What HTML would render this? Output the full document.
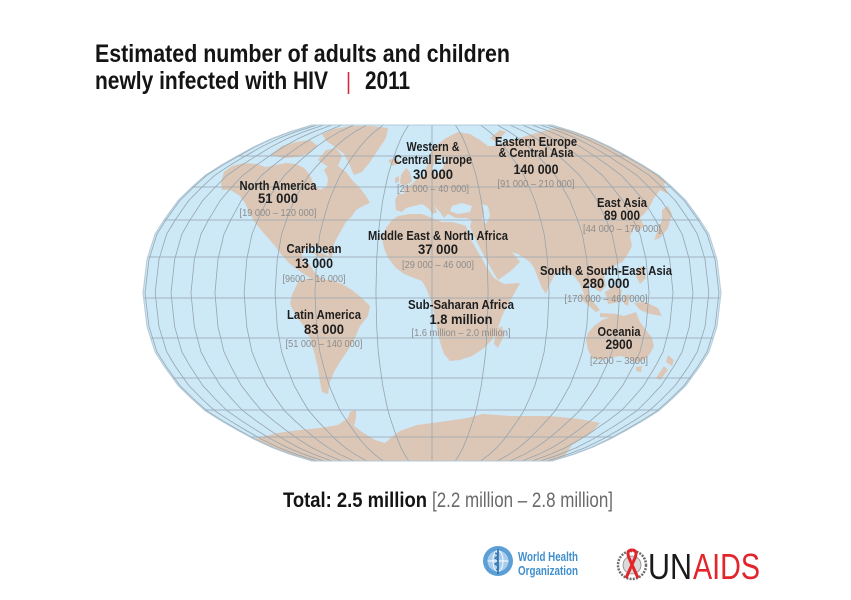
<!DOCTYPE html>
<html><head><meta charset="utf-8"><style>
html,body{margin:0;padding:0;background:#fff;}
svg{display:block;}
text{font-family:"Liberation Sans",Arial,sans-serif;}
.n{font-weight:bold;font-size:12.5px;fill:#1e1e1e;}
.v{font-weight:bold;font-size:14px;fill:#1e1e1e;}
.r{font-size:10.5px;fill:#8c8c8c;}
</style></head><body>
<svg width="851" height="600" viewBox="0 0 851 600" xmlns="http://www.w3.org/2000/svg" xmlns:xlink="http://www.w3.org/1999/xlink">
<defs>
<path id="half" vector-effect="non-scaling-stroke" fill="none" stroke="#97a5ae" stroke-width="0.8"
 d="M -120 125 L -142 131.7 L -160 138.4 L -178 146.8 L -195 156.1 L -211 165.3 L -227 175.4 L -240 187 L -254 200.6 L -268 219.9 L -277 234.2 L -285 259.4 L -289 293 L -285 326.6 L -277 351.8 L -268 366.1 L -254 385.4 L -240 399 L -227 410.6 L -211 420.7 L -195 429.9 L -178 439.2 L -160 447.6 L -142 454.3 L -120 461"/>
<clipPath id="clip"><path id="outl" d="M312 125 L552 125 L574 131.7 L592 138.4 L610 146.8 L627 156.1 L643 165.3 L659 175.4 L672 187 L686 200.6 L700 219.9 L709 234.2 L717 259.4 L721 293 L717 326.6 L709 351.8 L700 366.1 L686 385.4 L672 399 L659 410.6 L643 420.7 L627 429.9 L610 439.2 L592 447.6 L574 454.3 L552 461 L312 461 L290 454.3 L272 447.6 L254 439.2 L237 429.9 L221 420.7 L205 410.6 L192 399 L178 385.4 L164 366.1 L155 351.8 L147 326.6 L143 293 L147 259.4 L155 234.2 L164 219.9 L178 200.6 L192 187 L205 175.4 L221 165.3 L237 156.1 L254 146.8 L272 138.4 L290 131.7 Z"/></clipPath>
</defs>

<!-- Title -->
<text x="95" y="62" font-size="25" font-weight="bold" fill="#141414" textLength="415" lengthAdjust="spacingAndGlyphs">Estimated number of adults and children</text>
<text x="95" y="89" font-size="25" font-weight="bold" fill="#141414" textLength="233" lengthAdjust="spacingAndGlyphs">newly infected with HIV</text>
<line x1="348.5" y1="72" x2="348.5" y2="94" stroke="#d42a3c" stroke-width="1.6"/>
<text x="365" y="89" font-size="25" font-weight="bold" fill="#141414" textLength="45" lengthAdjust="spacingAndGlyphs">2011</text>

<!-- Map -->
<g clip-path="url(#clip)">
<rect x="130" y="115" width="600" height="360" fill="#cde8f7"/>
<g fill="#dcc7b6">
<!-- North America -->
<path d="M221 182 L224 172 L232 166 L244 163 L256 164 L266 167 L276 165 L286 163 L296 164 L304 168 L310 175 L314 185 L320 190 L327 186 L328 178 L324 170 L330 164 L338 166 L346 172 L352 180 L360 188 L366 196 L370 203 L363 206 L356 210 L352 216 L346 222 L342 229 L338 236 L334 244 L333 252 L331 259 L327 252 L321 247 L313 246 L306 248 L302 254 L303 261 L309 264 L313 270 L318 276 L324 281 L319 283 L312 279 L304 274 L295 268 L288 262 L281 254 L275 246 L268 238 L261 230 L254 221 L249 212 L245 203 L239 195 L230 190 L222 190 Z"/>
<path d="M270 155 L282 146 L296 142 L310 140 L318 146 L310 153 L298 157 L284 158 Z"/>
<path d="M318 160 L326 150 L336 148 L342 156 L338 166 L330 168 Z"/>
<path d="M322 134 L334 129 L350 126 L372 126 L388 128 L386 138 L378 150 L370 162 L362 172 L354 175 L350 166 L344 154 L334 146 L326 141 Z"/>
<path d="M388 160 L396 158 L400 163 L392 166 Z"/>
<path d="M312 252 L322 253 L330 257 L320 258 Z"/>
<!-- South America -->
<path d="M298 282 L306 279 L318 279 L330 280 L342 284 L352 290 L362 298 L370 306 L368 316 L360 326 L355 338 L348 350 L340 362 L334 372 L330 382 L328 394 L322 392 L320 382 L318 368 L314 352 L310 338 L304 326 L296 316 L290 304 L292 295 Z"/>
<!-- Eurasia -->
<path d="M396 210 L395 200 L398 194 L404 194 L404 188 L412 184 L418 178 L424 176 L426 168 L428 164 L430 154 L436 146 L446 138 L458 132 L470 134 L480 140 L488 146 L496 146 L504 142 L514 140 L526 136 L540 132 L556 128 L572 127 L588 130 L604 134 L620 140 L634 146 L648 154 L662 160 L674 166 L680 174 L670 178 L664 184 L668 194 L660 190 L654 198 L650 206 L646 212 L640 218 L644 226 L638 232 L634 228 L630 236 L632 246 L628 254 L622 262 L614 266 L606 270 L604 278 L606 286 L600 292 L594 288 L592 282 L588 286 L590 296 L592 304 L588 304 L584 294 L580 284 L574 276 L566 272 L560 270 L554 276 L550 284 L546 294 L542 288 L538 278 L534 268 L530 262 L524 258 L518 254 L512 252 L520 262 L512 270 L504 276 L498 280 L492 270 L484 256 L478 244 L472 232 L470 226 L472 220 L466 218 L456 218 L448 214 L444 218 L440 212 L434 206 L437 212 L433 214 L428 208 L422 204 L414 206 L406 208 L402 212 Z"/>
<path d="M401 175 L406 168 L410 172 L412 182 L404 186 L400 183 Z"/>
<path d="M395 178 L399 176 L399 182 L395 183 Z"/>
<path d="M490 138 L500 130 L506 132 L496 142 Z"/>
<path d="M662 210 L668 206 L672 214 L668 228 L660 238 L654 240 L658 230 L662 220 Z"/>
<path d="M638 268 L644 266 L646 278 L640 284 L636 276 Z"/>
<path d="M605 292 L615 286 L622 290 L620 302 L608 304 Z"/>
<path d="M580 293 L590 298 L600 310 L596 312 L582 300 Z"/>
<path d="M600 313 L618 314 L618 318 L600 317 Z"/>
<path d="M624 296 L630 294 L628 306 L624 304 Z"/>
<path d="M634 303 L645 302 L658 308 L662 316 L650 314 L640 310 Z"/>
<!-- Africa -->
<path d="M398 216 L410 214 L422 214 L432 218 L442 222 L452 222 L460 224 L466 226 L470 238 L478 252 L486 266 L494 278 L504 284 L520 283 L514 294 L508 304 L502 316 L498 328 L492 340 L484 348 L472 356 L460 360 L450 361 L444 354 L440 342 L437 328 L434 312 L430 298 L426 288 L422 281 L414 278 L404 274 L396 268 L388 258 L384 248 L382 238 L386 228 L392 220 Z"/>
<path d="M496 330 L502 326 L504 336 L498 348 L494 344 Z"/>
<!-- Australia / NZ -->
<path d="M588 333 L594 326 L602 320 L608 318 L616 314 L624 316 L630 314 L636 312 L640 322 L646 330 L652 338 L654 346 L650 354 L644 360 L636 362 L628 358 L620 356 L610 358 L600 360 L592 358 L588 350 L586 340 Z"/>
<path d="M636 367 L642 366 L641 372 L636 371 Z"/>
<path d="M668 355 L674 360 L672 366 L666 362 Z"/>
<path d="M664 366 L668 370 L660 380 L656 378 Z"/>
<!-- Antarctica -->
<path d="M250 440 L277 433 L300 430 L320 428 L338 425 L348 418 L350 412 L356 410 L356 418 L354 426 L362 432 L375 440 L385 443 L393 436 L400 431 L417 425 L440 422 L467 418 L483 414 L510 416 L550 416 L580 419 L600 423 L590 434 L572 445 L565 455 L560 470 L250 470 Z"/>
</g>
<!-- inland water -->
<g fill="#cde8f7">
<path d="M452 206 L462 203 L472 206 L470 212 L458 214 L450 211 Z"/>
<path d="M482 204 L488 206 L490 216 L486 224 L482 220 L484 212 Z"/>
<path d="M432 168 L436 160 L442 156 L446 160 L442 170 L436 176 Z"/>
</g>
<!-- graticule -->
<g stroke="#97a5ae" stroke-width="0.8" fill="none">
<line x1="140" y1="156" x2="725" y2="156"/>
<line x1="140" y1="187" x2="725" y2="187"/>
<line x1="140" y1="220" x2="725" y2="220"/>
<line x1="140" y1="257" x2="725" y2="257"/>
<line x1="140" y1="298" x2="725" y2="298"/>
<line x1="140" y1="338" x2="725" y2="338"/>
<line x1="140" y1="378" x2="725" y2="378"/>
<line x1="140" y1="410" x2="725" y2="410"/>
<line x1="140" y1="437" x2="725" y2="437"/>
<line x1="432" y1="120" x2="432" y2="465"/>
</g>
<use xlink:href="#half" href="#half" transform="translate(432,0) scale(0.194,1)"/>
<use xlink:href="#half" href="#half" transform="translate(432,0) scale(0.405,1)"/>
<use xlink:href="#half" href="#half" transform="translate(432,0) scale(0.543,1)"/>
<use xlink:href="#half" href="#half" transform="translate(432,0) scale(0.650,1)"/>
<use xlink:href="#half" href="#half" transform="translate(432,0) scale(0.751,1)"/>
<use xlink:href="#half" href="#half" transform="translate(432,0) scale(0.834,1)"/>
<use xlink:href="#half" href="#half" transform="translate(432,0) scale(0.903,1)"/>
<use xlink:href="#half" href="#half" transform="translate(432,0) scale(0.958,1)"/>
<use xlink:href="#half" href="#half" transform="translate(432,0) scale(0.993,1)"/>
<use xlink:href="#half" href="#half" transform="translate(432,0) scale(-0.194,1)"/>
<use xlink:href="#half" href="#half" transform="translate(432,0) scale(-0.405,1)"/>
<use xlink:href="#half" href="#half" transform="translate(432,0) scale(-0.543,1)"/>
<use xlink:href="#half" href="#half" transform="translate(432,0) scale(-0.650,1)"/>
<use xlink:href="#half" href="#half" transform="translate(432,0) scale(-0.751,1)"/>
<use xlink:href="#half" href="#half" transform="translate(432,0) scale(-0.834,1)"/>
<use xlink:href="#half" href="#half" transform="translate(432,0) scale(-0.903,1)"/>
<use xlink:href="#half" href="#half" transform="translate(432,0) scale(-0.958,1)"/>
<use xlink:href="#half" href="#half" transform="translate(432,0) scale(-0.993,1)"/>
</g>
<use xlink:href="#outl" href="#outl" fill="none" stroke="#b3cad8" stroke-width="1"/>

<!-- Labels -->
<g text-anchor="middle">
<text class="n" x="278" y="190" textLength="77" lengthAdjust="spacingAndGlyphs">North America</text>
<text class="v" x="278" y="203" textLength="40" lengthAdjust="spacingAndGlyphs">51 000</text>
<text class="r" x="278" y="216" textLength="77" lengthAdjust="spacingAndGlyphs">[19 000 – 120 000]</text>

<text class="n" x="314" y="253" textLength="55" lengthAdjust="spacingAndGlyphs">Caribbean</text>
<text class="v" x="314" y="268" textLength="38" lengthAdjust="spacingAndGlyphs">13 000</text>
<text class="r" x="314" y="282" textLength="63" lengthAdjust="spacingAndGlyphs">[9600 – 16 000]</text>

<text class="n" x="324" y="319" textLength="74" lengthAdjust="spacingAndGlyphs">Latin America</text>
<text class="v" x="324" y="334" textLength="40" lengthAdjust="spacingAndGlyphs">83 000</text>
<text class="r" x="324" y="347" textLength="77" lengthAdjust="spacingAndGlyphs">[51 000 – 140 000]</text>

<text class="n" x="433" y="151" textLength="53" lengthAdjust="spacingAndGlyphs">Western &amp;</text>
<text class="n" x="433" y="164" textLength="78" lengthAdjust="spacingAndGlyphs">Central Europe</text>
<text class="v" x="433" y="179" textLength="40" lengthAdjust="spacingAndGlyphs">30 000</text>
<text class="r" x="433" y="192" textLength="72" lengthAdjust="spacingAndGlyphs">[21 000 – 40 000]</text>

<text class="n" x="536" y="146" textLength="82" lengthAdjust="spacingAndGlyphs">Eastern Europe</text>
<text class="n" x="536" y="157" textLength="75" lengthAdjust="spacingAndGlyphs">&amp; Central Asia</text>
<text class="v" x="536" y="174" textLength="45" lengthAdjust="spacingAndGlyphs">140 000</text>
<text class="r" x="536" y="187" textLength="77" lengthAdjust="spacingAndGlyphs">[91 000 – 210 000]</text>

<text class="n" x="622" y="207" textLength="50" lengthAdjust="spacingAndGlyphs">East Asia</text>
<text class="v" x="622" y="220" textLength="36" lengthAdjust="spacingAndGlyphs">89 000</text>
<text class="r" x="622" y="232" textLength="78" lengthAdjust="spacingAndGlyphs">[44 000 – 170 000]</text>

<text class="n" x="438" y="240" textLength="140" lengthAdjust="spacingAndGlyphs">Middle East &amp; North Africa</text>
<text class="v" x="438" y="254" textLength="40" lengthAdjust="spacingAndGlyphs">37 000</text>
<text class="r" x="438" y="268" textLength="72" lengthAdjust="spacingAndGlyphs">[29 000 – 46 000]</text>

<text class="n" x="606" y="275" textLength="132" lengthAdjust="spacingAndGlyphs">South &amp; South-East Asia</text>
<text class="v" x="606" y="288" textLength="47" lengthAdjust="spacingAndGlyphs">280 000</text>
<text class="r" x="606" y="302" textLength="83" lengthAdjust="spacingAndGlyphs">[170 000 – 460 000]</text>

<text class="n" x="461" y="309" textLength="106" lengthAdjust="spacingAndGlyphs">Sub-Saharan Africa</text>
<text class="v" x="461" y="324" textLength="63" lengthAdjust="spacingAndGlyphs">1.8 million</text>
<text class="r" x="461" y="336" textLength="99" lengthAdjust="spacingAndGlyphs">[1.6 million – 2.0 million]</text>

<text class="n" x="619" y="336" textLength="43" lengthAdjust="spacingAndGlyphs">Oceania</text>
<text class="v" x="619" y="349" textLength="27" lengthAdjust="spacingAndGlyphs">2900</text>
<text class="r" x="619" y="364" textLength="58" lengthAdjust="spacingAndGlyphs">[2200 – 3800]</text>
</g>

<!-- Total -->
<text x="283" y="507" font-size="21" font-weight="bold" fill="#141414" textLength="144" lengthAdjust="spacingAndGlyphs">Total: 2.5 million</text>
<text x="432" y="507" font-size="21" fill="#6a6a6a" textLength="181" lengthAdjust="spacingAndGlyphs">[2.2 million – 2.8 million]</text>

<!-- WHO logo -->
<g>
<circle cx="498" cy="561" r="15" fill="#5b9fd6"/>
<circle cx="498" cy="561" r="10.5" fill="#a8cdec"/>
<ellipse cx="498" cy="561" rx="5" ry="10.5" fill="none" stroke="#fff" stroke-width="0.9"/>
<line x1="487.5" y1="561" x2="508.5" y2="561" stroke="#fff" stroke-width="0.9"/>
<line x1="498" y1="549" x2="498" y2="574" stroke="#2f6fa8" stroke-width="1.6"/>
<path d="M495 553 Q501 555 495 558 Q501 561 495 564 Q501 567 496 570" fill="none" stroke="#2f6fa8" stroke-width="1.2"/>
</g>
<text x="518" y="561" font-size="13" font-weight="bold" fill="#3f8fcd" textLength="60" lengthAdjust="spacingAndGlyphs">World Health</text>
<text x="518" y="575" font-size="13" font-weight="bold" fill="#3f8fcd" textLength="60" lengthAdjust="spacingAndGlyphs">Organization</text>

<!-- UNAIDS logo -->
<g>
<circle cx="632" cy="565" r="14" fill="#fff" stroke="#6f6f6f" stroke-width="2.5" stroke-dasharray="2 1.2"/>
<circle cx="632" cy="565" r="9" fill="#d9d9d9" stroke="#888" stroke-width="0.8"/>
<path d="M626 578 L635 558 Q638 550 632 550 Q626 550 629 558 L638 578" fill="none" stroke="#e3242b" stroke-width="3"/>
</g>
<text x="648" y="579" font-size="36" fill="#1a1a1a" textLength="44" lengthAdjust="spacingAndGlyphs">UN</text>
<text x="693" y="579" font-size="36" fill="#e3242b" textLength="67" lengthAdjust="spacingAndGlyphs">AIDS</text>
</svg>
</body></html>
